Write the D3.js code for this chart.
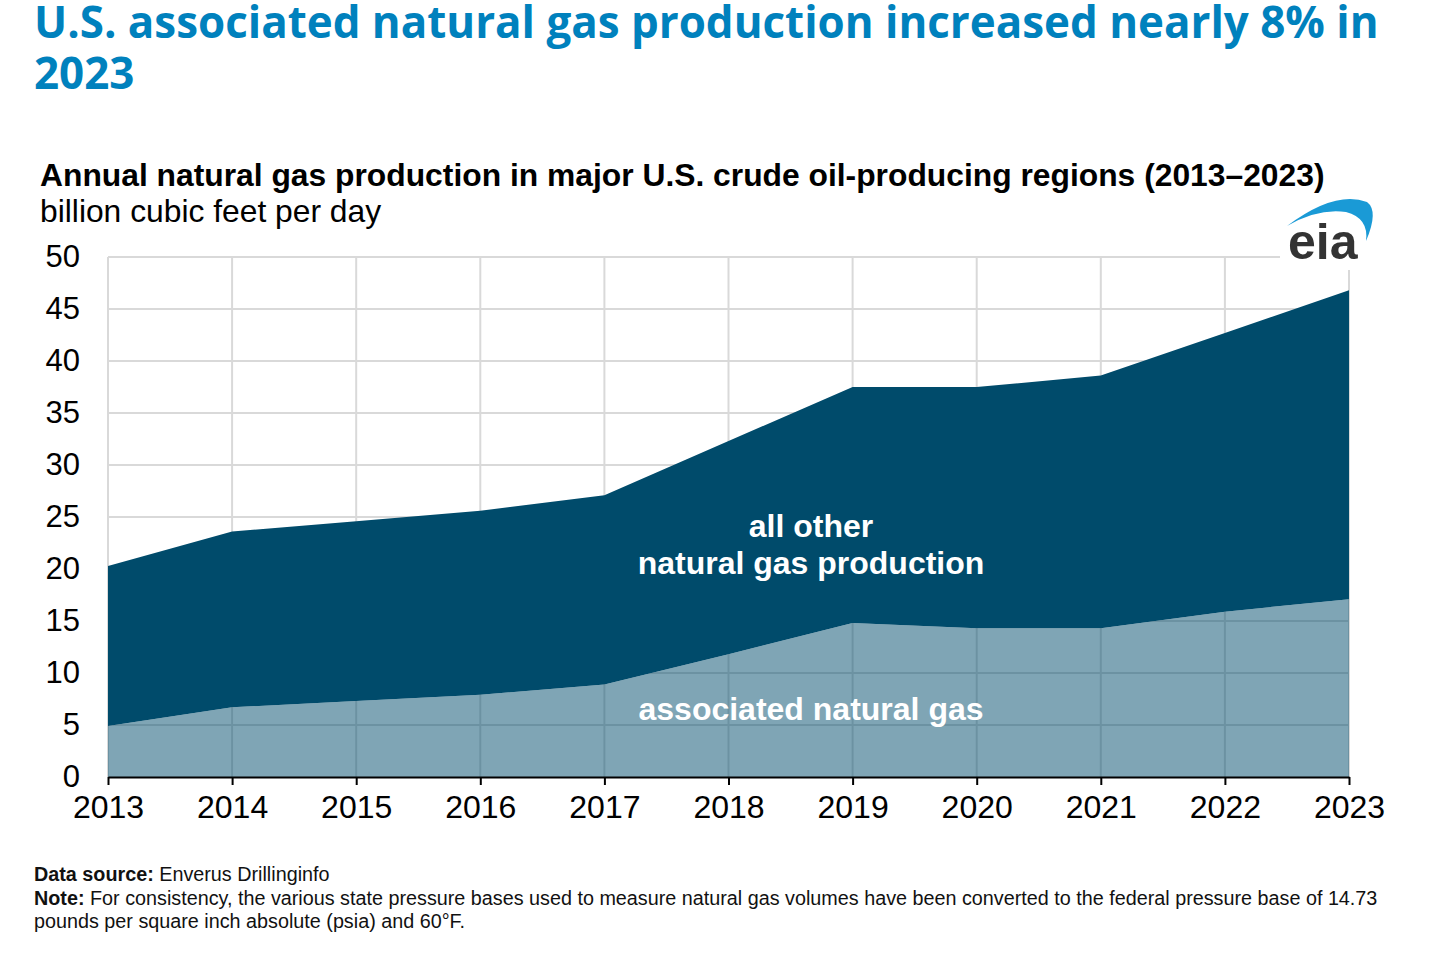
<!DOCTYPE html>
<html lang="en">
<head>
	<meta charset="utf-8">
	<title>U.S. associated natural gas production</title>
	<script src="https://d3js.org/d3.v7.min.js"></script>
	<style>
	body { margin: 0; background: #fff; }
	svg text { font-family: "Liberation Sans", Arial, sans-serif; }
	.headline { font-family: "Open Sans", Lato, sans-serif; font-weight: 700; fill: #0081bd; }
	.foot { font-family: Lato, "Open Sans", sans-serif; fill: #111; }
	</style>
</head>
<body>
	<div id="chart"></div>
	<script>
		// years and series, billion cubic feet per day
		let years = [2013, 2014, 2015, 2016, 2017, 2018, 2019, 2020, 2021, 2022, 2023];
		let associatedGas = [4.9, 6.7, 7.3, 7.9, 8.9, 11.8, 14.8, 14.3, 14.3, 15.9, 17.1];
		let totalGas = [20.3, 23.6, 24.6, 25.6, 27.1, 32.3, 37.5, 37.5, 38.6, 42.7, 46.8];
		let yTicks = [0, 5, 10, 15, 20, 25, 30, 35, 40, 45, 50];

		let width = 1435;
		let height = 967;
		let plot = { left: 108, right: 1349, top: 257, bottom: 777 };
		let darkBlue = "#004b6b";
		let fontSize = "32px";

		let svg = d3.select("#chart")
					.append("svg")
					.attr("width", width)
					.attr("height", height);

		// stretch a text's font size so it spans the wanted width
		function fitWidth(sel, wanted, start) {
			sel.style("font-size", start + "px");
			let w = sel.node().getComputedTextLength();
			sel.style("font-size", (start * wanted / w) + "px");
			return start * wanted / w;
		}

		// headline
		let h1 = svg.append("text").attr("class", "headline")
			.attr("x", 34).attr("y", 38)
			.text("U.S. associated natural gas production increased nearly 8% in");
		let hSize = fitWidth(h1, 1345, 42);
		svg.append("text").attr("class", "headline")
			.attr("x", 34).attr("y", 89).style("font-size", hSize + "px")
			.text("2023");

		// chart title
		svg.append("text")
			.attr("x", 40).attr("y", 186)
			.style("font-size", "31.8px").style("font-weight", "bold")
			.text("Annual natural gas production in major U.S. crude oil-producing regions (2013\u20132023)");
		svg.append("text")
			.attr("x", 40).attr("y", 222)
			.style("font-size", "31.8px")
			.text("billion cubic feet per day");

		let x = d3.scaleLinear()
					.domain(d3.extent(years))
					.range([plot.left, plot.right]);
		let y = d3.scaleLinear()
					.domain([0, 50])
					.range([plot.bottom, plot.top]);

		// grid
		let grid = svg.append("g").attr("stroke", "#d9d9d9").attr("stroke-width", 2);
		grid.selectAll("line.h")
			.data(yTicks.filter(d => d > 0))
			.enter().append("line")
			.attr("x1", plot.left).attr("x2", plot.right)
			.attr("y1", d => y(d)).attr("y2", d => y(d));
		grid.selectAll("line.v")
			.data(years)
			.enter().append("line")
			.attr("x1", d => x(d)).attr("x2", d => x(d))
			.attr("y1", plot.top).attr("y2", plot.bottom);

		// white box behind the logo
		svg.append("rect")
			.attr("x", 1280).attr("y", 195).attr("width", 100).attr("height", 75)
			.attr("fill", "#fff");

		// all other production (between associated and total)
		let rows = years.map((yr, i) => ({ year: yr, assoc: associatedGas[i], total: totalGas[i] }));
		svg.append("path")
			.datum(rows)
			.attr("fill", darkBlue)
			.attr("d", d3.area()
				.x(d => x(d.year))
				.y0(d => y(d.assoc))
				.y1(d => y(d.total)));

		// associated gas, translucent so the grid shows through
		svg.append("path")
			.datum(rows)
			.attr("fill", darkBlue)
			.attr("fill-opacity", 0.5)
			.attr("d", d3.area()
				.x(d => x(d.year))
				.y0(y(0))
				.y1(d => y(d.assoc)));

		// x axis
		let xAxis = svg.append("g")
			.attr("transform", "translate(0," + plot.bottom + ")")
			.call(d3.axisBottom(x).tickValues(years).tickFormat(d3.format("d")).tickSize(8).tickSizeOuter(0));
		xAxis.select(".domain").attr("stroke", "#000").attr("stroke-width", 2);
		xAxis.selectAll(".tick line").attr("stroke", "#000").attr("stroke-width", 2);
		xAxis.selectAll(".tick text")
			.attr("dy", 0).attr("y", 41)
			.style("font-size", fontSize).style("font-family", "Liberation Sans, Arial, sans-serif")
			.attr("fill", "#000");

		// y axis labels
		let yAxis = svg.append("g")
			.attr("transform", "translate(" + plot.left + ",0)")
			.call(d3.axisLeft(y).tickValues(yTicks).tickSize(0).tickPadding(28));
		yAxis.select(".domain").remove();
		yAxis.selectAll(".tick text")
			.style("font-size", "31px").style("font-family", "Liberation Sans, Arial, sans-serif")
			.attr("fill", "#000");

		// area labels
		let labels = svg.append("g")
			.attr("fill", "#fff").attr("text-anchor", "middle")
			.style("font-size", fontSize).style("font-weight", "bold");
		labels.append("text").attr("x", 811).attr("y", 537).text("all other");
		labels.append("text").attr("x", 811).attr("y", 574).text("natural gas production");
		labels.append("text").attr("x", 811).attr("y", 720).text("associated natural gas");

		// eia logo
		let logo = svg.append("g");
		logo.append("path")
			.attr("d", "M1287,226 Q1335,190 1367,202 Q1379,211 1366,241 Q1369,218 1346,212 Q1318,208 1287,226 Z")
			.attr("fill", "#1a9ad6");
		logo.append("text")
			.attr("x", 1288).attr("y", 259)
			.style("font-size", "50px").style("font-weight", "bold")
			.style("font-family", "Liberation Sans, Arial, sans-serif")
			.attr("fill", "#333")
			.text("eia");

		// footer
		let foot = svg.append("g").attr("class", "foot");
		let t1 = foot.append("text").attr("x", 34).attr("y", 881);
		t1.append("tspan").style("font-weight", "bold").text("Data source:");
		t1.append("tspan").text(" Enverus Drillinginfo");
		let t2 = foot.append("text").attr("x", 34).attr("y", 905);
		t2.append("tspan").style("font-weight", "bold").text("Note:");
		t2.append("tspan").text(" For consistency, the various state pressure bases used to measure natural gas volumes have been converted to the federal pressure base of 14.73");
		let fSize = fitWidth(t2, 1344, 19);
		t1.style("font-size", fSize + "px");
		foot.append("text").attr("x", 34).attr("y", 928).style("font-size", fSize + "px")
			.text("pounds per square inch absolute (psia) and 60\u00b0F.");
	</script>
</body>
</html>
